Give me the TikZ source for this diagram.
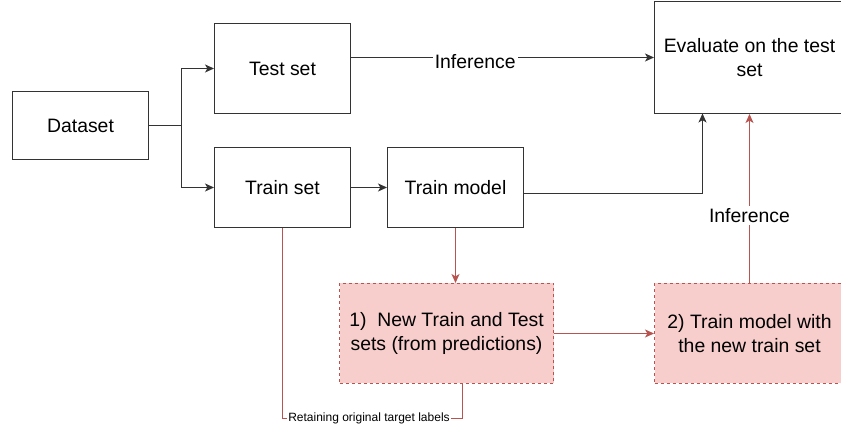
\documentclass[tikz,border=0pt]{standalone}
\usepackage{fontspec}
\setmainfont{Liberation Sans}
\usepackage{xcolor}
\usetikzlibrary{arrows.meta,positioning}
\definecolor{boxline}{HTML}{333333}
\definecolor{redline}{HTML}{B85450}
\definecolor{redfill}{HTML}{F8CECC}
\tikzset{
  box/.style={draw=boxline, line width=0.5pt, align=center, inner sep=2pt, font=\fontsize{9.7}{12}\selectfont},
  redbox/.style={box, draw=redline, fill=redfill, dash pattern=on 1.5pt off 1.5pt},
  conn/.style={draw=boxline, line width=0.5pt, -{Stealth[length=4.5pt,width=4pt,inset=1.2pt]}},
  redconn/.style={conn, draw=redline, -{Stealth[length=4.5pt,width=4pt,inset=1.2pt,color=redline]}},
  lbl/.style={fill=white, inner sep=1pt, font=\fontsize{9.7}{12}\selectfont}
}

\begin{document}
\begin{tikzpicture}[x=0.5pt, y=-0.5pt]
\useasboundingbox (0,0) rectangle (841,431);
% boxes
\node[box, minimum width=68pt, minimum height=34pt] (dataset) at (80.5,125.5) {Dataset};
\node[box, minimum width=68pt, minimum height=45pt] (testset) at (282.5,68.5) {Test set};
\node[box, minimum width=68pt, minimum height=40pt] (trainset) at (282.5,187.5) {Train set};
\node[box, minimum width=68pt, minimum height=40pt] (trainmodel) at (455.5,187.5) {Train model};
\node[box, minimum width=95pt, minimum height=56pt] (evaluate) at (749.5,57.5) {Evaluate on the test\\set};
\node[redbox, minimum width=107pt, minimum height=50pt] (newsets) at (446.5,333.5) {1)\ \ New Train and Test\\sets (from predictions)};
\node[redbox, minimum width=95pt, minimum height=50pt] (retrain) at (749.5,333.5) {2)\ Train model with\\the new train set};
% helper points
\coordinate (split) at (181.5,125.5);
\coordinate (evalin) at (702.5,113.5);
\coordinate (retL) at (282.5,418.5);
\coordinate (retR) at (462.5,418.5);

% black connectors
\draw[conn] (dataset.east) -- (split) |- (testset.west);
\draw[conn] (split) |- (trainset.west);
\draw[conn] (evaluate.west -| testset.east) -- node[lbl, pos=0.41, yshift=-2pt] (inf1) {Inference} (evaluate.west);
\draw[conn] (trainset.east) -- (trainmodel.west);
\draw[conn] ([yshift=-3pt]trainmodel.east) -| (evalin);

% red connectors
\draw[redconn] (trainmodel.south) -- (trainmodel.south |- newsets.north);
\draw[redconn] (newsets.east) -- (retrain.west);
\draw[redconn] (retrain.north) -- node[lbl, pos=0.4] (inf2) {Inference} (evaluate.south);
\draw[draw=redline, line width=0.5pt] (trainset.south -| retL) -- (retL) -- (retR) -- (retR |- newsets.south);
\node[fill=white, inner sep=0.5pt, font=\fontsize{6}{7}\selectfont] (retlbl) at (369,418.5) {Retaining original target labels};
\end{tikzpicture}
\end{document}
